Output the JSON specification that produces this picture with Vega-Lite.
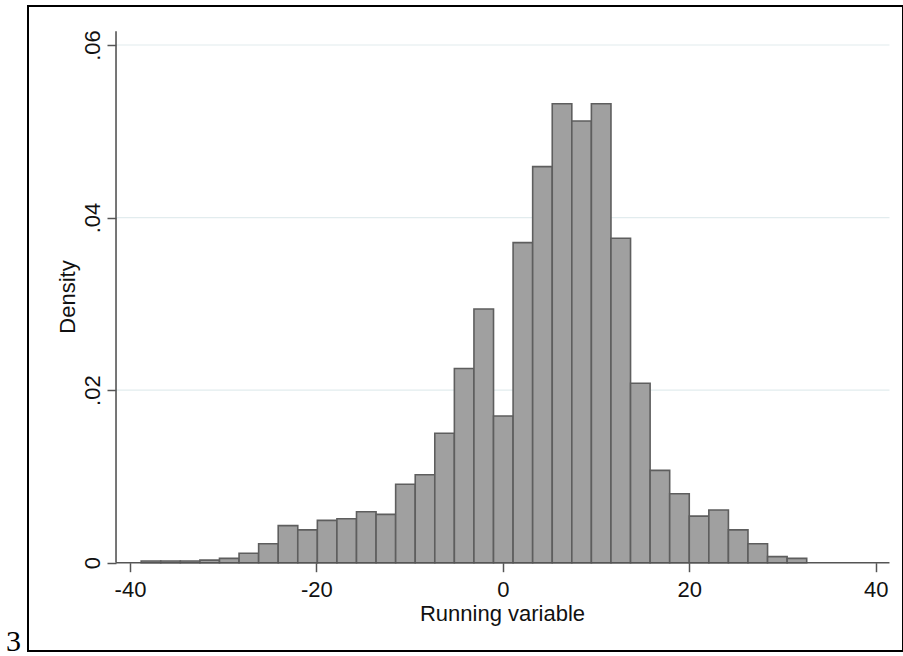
{
  "$schema": "https://vega.github.io/schema/vega-lite/v6.json",
  "width": 875,
  "height": 645,
  "autosize": "none",
  "padding": {"left": 28, "top": 6, "right": 0, "bottom": 5},
  "background": "white",
  "config": {
    "view": {"stroke": "#000000", "strokeWidth": 2},
    "font": "Liberation Sans"
  },
  "title": {
    "text": "3",
    "orient": "bottom",
    "anchor": "start",
    "frame": "group",
    "font": "Liberation Serif",
    "fontSize": 30,
    "fontWeight": "normal",
    "color": "#000000",
    "baseline": "alphabetic",
    "offset": 0,
    "dx": -22
  },
  "datasets": {
    "bins": [
      {"bin_start": -38.8, "bin_end": -36.7, "density": 0.0002},
      {"bin_start": -36.7, "bin_end": -34.6, "density": 0.0002},
      {"bin_start": -34.6, "bin_end": -32.5, "density": 0.0002},
      {"bin_start": -32.5, "bin_end": -30.4, "density": 0.0003},
      {"bin_start": -30.4, "bin_end": -28.3, "density": 0.0005},
      {"bin_start": -28.3, "bin_end": -26.2, "density": 0.0011},
      {"bin_start": -26.2, "bin_end": -24.1, "density": 0.0022},
      {"bin_start": -24.1, "bin_end": -22.0, "density": 0.0043},
      {"bin_start": -22.0, "bin_end": -19.9, "density": 0.0038},
      {"bin_start": -19.9, "bin_end": -17.8, "density": 0.0049},
      {"bin_start": -17.8, "bin_end": -15.7, "density": 0.0051},
      {"bin_start": -15.7, "bin_end": -13.6, "density": 0.0059},
      {"bin_start": -13.6, "bin_end": -11.5, "density": 0.0056},
      {"bin_start": -11.5, "bin_end": -9.4, "density": 0.0091},
      {"bin_start": -9.4, "bin_end": -7.3, "density": 0.0102},
      {"bin_start": -7.3, "bin_end": -5.2, "density": 0.0150},
      {"bin_start": -5.2, "bin_end": -3.1, "density": 0.0225},
      {"bin_start": -3.1, "bin_end": -1.0, "density": 0.0294},
      {"bin_start": -1.0, "bin_end": 1.1, "density": 0.0170},
      {"bin_start": 1.1, "bin_end": 3.2, "density": 0.0371},
      {"bin_start": 3.2, "bin_end": 5.3, "density": 0.0459},
      {"bin_start": 5.3, "bin_end": 7.4, "density": 0.0532},
      {"bin_start": 7.4, "bin_end": 9.5, "density": 0.0512},
      {"bin_start": 9.5, "bin_end": 11.6, "density": 0.0532},
      {"bin_start": 11.6, "bin_end": 13.7, "density": 0.0376},
      {"bin_start": 13.7, "bin_end": 15.8, "density": 0.0208},
      {"bin_start": 15.8, "bin_end": 17.9, "density": 0.0107},
      {"bin_start": 17.9, "bin_end": 20.0, "density": 0.0080},
      {"bin_start": 20.0, "bin_end": 22.1, "density": 0.0054},
      {"bin_start": 22.1, "bin_end": 24.2, "density": 0.0061},
      {"bin_start": 24.2, "bin_end": 26.3, "density": 0.0038},
      {"bin_start": 26.3, "bin_end": 28.4, "density": 0.0022},
      {"bin_start": 28.4, "bin_end": 30.5, "density": 0.0007},
      {"bin_start": 30.5, "bin_end": 32.6, "density": 0.0005}
    ],
    "grid": [
      {"g": 0.02},
      {"g": 0.04},
      {"g": 0.06}
    ],
    "one": [
      {"k": 1}
    ]
  },
  "layer": [
    {
      "data": {"name": "grid"},
      "mark": {"type": "rule", "color": "#e2ecee", "strokeWidth": 1.2},
      "encoding": {
        "y": {"field": "g", "type": "quantitative", "scale": {"domain": [-0.010234, 0.064522], "nice": false, "zero": false}},
        "x": {"datum": -41.5, "type": "quantitative", "scale": {"domain": [-50.943, 42.931], "nice": false, "zero": false}},
        "x2": {"datum": 41.48}
      }
    },
    {
      "data": {"name": "bins"},
      "mark": {"type": "rect", "fill": "#a0a0a0", "stroke": "#5e5e5e", "strokeWidth": 1.6},
      "encoding": {
        "x": {
          "field": "bin_start", "type": "quantitative",
          "scale": {"domain": [-50.943, 42.931], "nice": false, "zero": false},
          "axis": {
            "values": [-40, -20, 0, 20, 40],
            "offset": -88.3,
            "domain": false,
            "grid": false,
            "ticks": true,
            "tickSize": 9,
            "tickColor": "#555555",
            "tickWidth": 1.5,
            "labelExpr": "'' + datum.value",
            "labelFont": "Liberation Sans",
            "labelFontSize": 22,
            "labelColor": "#111111",
            "labelBaseline": "alphabetic",
            "labelPadding": 25,
            "labelFlush": false,
            "labelOverlap": false,
            "title": "Running variable",
            "titleFont": "Liberation Sans",
            "titleFontSize": 22,
            "titleFontWeight": "normal",
            "titleColor": "#111111",
            "titleX": 474,
            "titleY": 57.3,
            "titleAlign": "center",
            "titleBaseline": "alphabetic"
          }
        },
        "x2": {"field": "bin_end"},
        "y": {
          "field": "density", "type": "quantitative",
          "scale": {"domain": [-0.010234, 0.064522], "nice": false, "zero": false},
          "axis": {
            "values": [0, 0.02, 0.04, 0.06],
            "offset": -88,
            "domain": false,
            "grid": false,
            "ticks": true,
            "tickSize": 9,
            "tickColor": "#555555",
            "tickWidth": 1.5,
            "labelExpr": "datum.value == 0 ? '0' : replace(format(datum.value, '.2f'), '0.', '.')",
            "labelFont": "Liberation Sans",
            "labelFontSize": 22,
            "labelColor": "#111111",
            "labelAngle": 270,
            "labelAlign": "center",
            "labelBaseline": "alphabetic",
            "labelPadding": 7.7,
            "labelFlush": false,
            "labelOverlap": false,
            "title": "Density",
            "titleFont": "Liberation Sans",
            "titleFontSize": 22,
            "titleFontWeight": "normal",
            "titleColor": "#111111",
            "titleAngle": 270,
            "titleX": -41.7,
            "titleY": 290.5,
            "titleAlign": "center",
            "titleBaseline": "alphabetic"
          }
        },
        "y2": {"datum": 0}
      }
    },
    {
      "data": {"name": "one"},
      "mark": {"type": "rule", "color": "#555555", "strokeWidth": 1.6},
      "encoding": {
        "y": {"datum": 0, "type": "quantitative"},
        "x": {"datum": -41.5, "type": "quantitative"},
        "x2": {"datum": 41.48}
      }
    },
    {
      "data": {"name": "one"},
      "mark": {"type": "rule", "color": "#555555", "strokeWidth": 1.6},
      "encoding": {
        "x": {"datum": -41.5, "type": "quantitative"},
        "y": {"datum": 0, "type": "quantitative"},
        "y2": {"datum": 0.0616}
      }
    }
  ]
}
